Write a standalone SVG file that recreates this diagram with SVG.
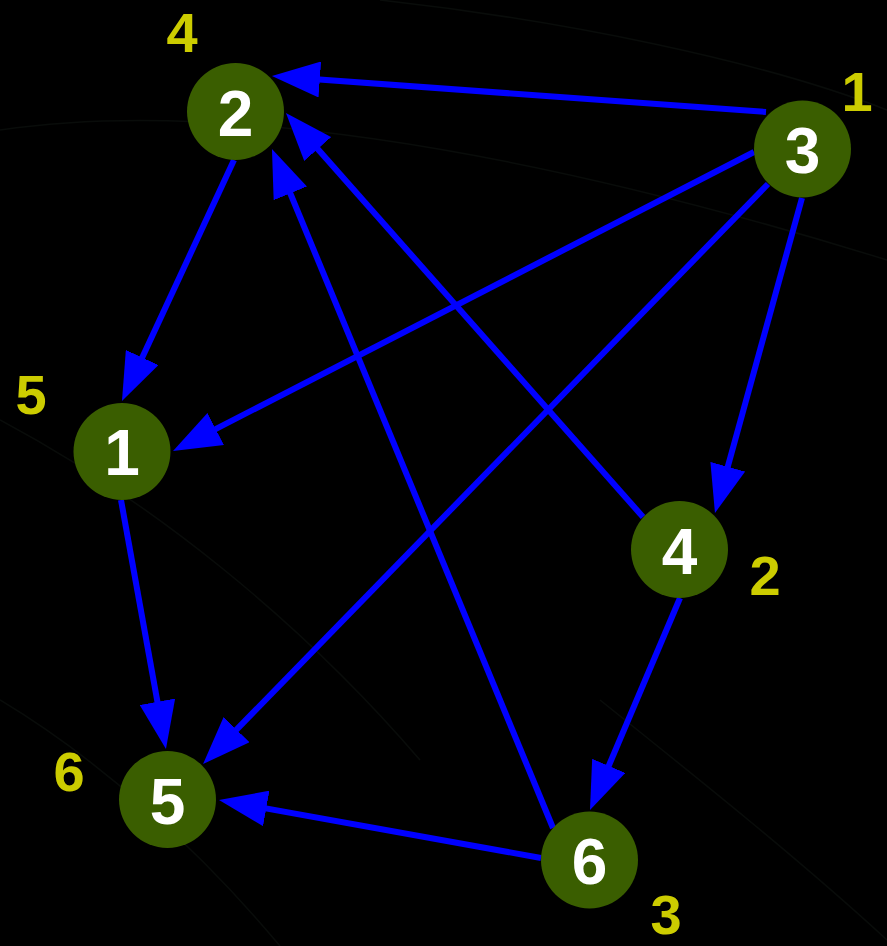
<svg xmlns="http://www.w3.org/2000/svg" width="887" height="946" viewBox="0 0 887 946">
  <style>
    .node circle { fill: #3a5e00; }
    .node text { fill: #ffffff; font-family: "Liberation Sans", Arial, sans-serif; font-weight: bold; font-size: 64px; text-anchor: middle; }
    .lbl { fill: #cccc00; font-family: "Liberation Sans", Arial, sans-serif; font-weight: bold; font-size: 56px; text-anchor: middle; }
    .edge { stroke: #0000ff; stroke-width: 6; fill: none; marker-end: url(#ah); }
    .bg { fill: none; stroke: #121814; stroke-width: 1.5; opacity: 0.5; }
  </style>
  <defs>
    <marker id="ah" markerUnits="userSpaceOnUse" markerWidth="48" markerHeight="36" viewBox="0 0 48 36" refX="28" refY="18" orient="auto">
      <path d="M0,0 L48,18 L0,36 z" fill="#0000ff"/>
    </marker>
  </defs>
  <rect width="887" height="946" fill="#000000"/>
  <g id="background">
    <path class="bg" d="M0,130 C200,100 500,140 887,260"/>
    <path class="bg" d="M380,0 C560,20 760,60 887,110"/>
    <path class="bg" d="M0,420 C150,500 300,620 420,760"/>
    <path class="bg" d="M0,700 C100,760 200,850 280,946"/>
    <path class="bg" d="M600,700 C700,780 800,860 887,940"/>
  </g>
  <g id="connectors">
    <line class="edge" x1="766" y1="112" x2="291.9" y2="77.5"/>
    <line class="edge" x1="234" y1="160" x2="130.4" y2="382.9"/>
    <line class="edge" x1="754" y1="152" x2="190.8" y2="441.8"/>
    <line class="edge" x1="768" y1="184" x2="217" y2="749.7"/>
    <line class="edge" x1="802" y1="198" x2="720.3" y2="493.7"/>
    <line class="edge" x1="643" y1="517" x2="299.2" y2="128"/>
    <line class="edge" x1="553" y1="828" x2="279.6" y2="167.5"/>
    <line class="edge" x1="121" y1="500" x2="162.4" y2="729.3"/>
    <line class="edge" x1="680" y1="598" x2="597.8" y2="791.6"/>
    <line class="edge" x1="541" y1="858" x2="238.7" y2="803.5"/>
  </g>
  <g id="node1" class="node"><circle cx="122" cy="451.5" r="48.5"/><text x="122" y="475">1</text></g>
  <g id="node2" class="node"><circle cx="235.5" cy="111.5" r="48.5"/><text x="235.5" y="135.5">2</text></g>
  <g id="node3" class="node"><circle cx="802.5" cy="149" r="48.5"/><text x="802.5" y="173">3</text></g>
  <g id="node4" class="node"><circle cx="679.5" cy="549.5" r="48.5"/><text x="679.5" y="573.5">4</text></g>
  <g id="node5" class="node"><circle cx="167.5" cy="799.5" r="48.5"/><text x="167.5" y="823.5">5</text></g>
  <g id="node6" class="node"><circle cx="589.5" cy="860" r="48.5"/><text x="589.5" y="884">6</text></g>
  <g id="labels">
    <text class="lbl" x="182" y="52">4</text>
    <text class="lbl" x="857" y="111">1</text>
    <text class="lbl" x="31" y="414">5</text>
    <text class="lbl" x="765" y="595">2</text>
    <text class="lbl" x="69" y="791">6</text>
    <text class="lbl" x="666" y="934">3</text>
  </g>
</svg>
